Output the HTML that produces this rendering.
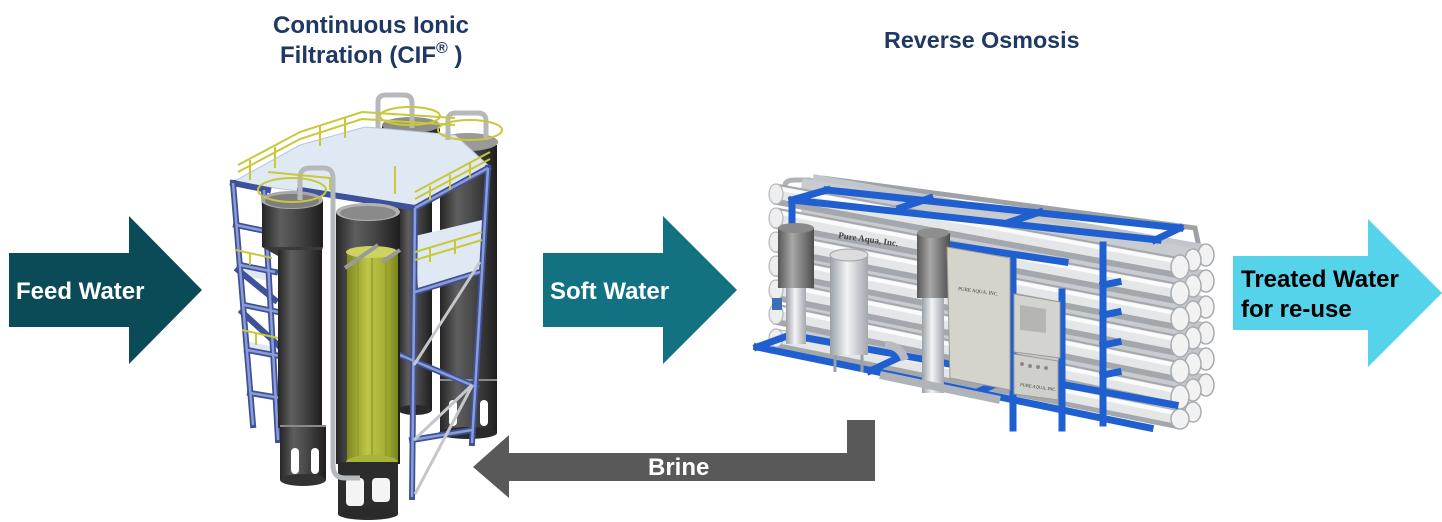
<!DOCTYPE html>
<html>
<head>
<meta charset="utf-8">
<style>
  html,body{margin:0;padding:0;background:#fff;}
  body{width:1442px;height:522px;overflow:hidden;position:relative;}
  svg{position:absolute;left:0;top:0;}
  .lbl{font-family:"Liberation Sans",Arial,sans-serif;font-weight:bold;}
</style>
</head>
<body>
<svg width="1442" height="522" viewBox="0 0 1442 522" xmlns="http://www.w3.org/2000/svg">
  <defs>
    <linearGradient id="cyl" x1="0" y1="0" x2="1" y2="0">
      <stop offset="0" stop-color="#262626"/>
      <stop offset="0.3" stop-color="#5e5e5e"/>
      <stop offset="0.55" stop-color="#4a4a4a"/>
      <stop offset="1" stop-color="#1e1e1e"/>
    </linearGradient>
    <linearGradient id="green" x1="0" y1="0" x2="1" y2="0">
      <stop offset="0" stop-color="#7d871c"/>
      <stop offset="0.4" stop-color="#bfc64a"/>
      <stop offset="0.75" stop-color="#a6af34"/>
      <stop offset="1" stop-color="#7a8420"/>
    </linearGradient>
    <linearGradient id="silver" x1="0" y1="0" x2="1" y2="0">
      <stop offset="0" stop-color="#9aa0a6"/>
      <stop offset="0.45" stop-color="#f3f4f5"/>
      <stop offset="1" stop-color="#a3a8ad"/>
    </linearGradient>
    <linearGradient id="motor" x1="0" y1="0" x2="1" y2="0">
      <stop offset="0" stop-color="#585858"/>
      <stop offset="0.4" stop-color="#a8a8a8"/>
      <stop offset="1" stop-color="#4e4e4e"/>
    </linearGradient>
  </defs>

  <!-- ============ ARROWS ============ -->
  <polygon points="9,253 129,253 129,216 202,290 129,364 129,327 9,327" fill="#0b4a57"/>
  <polygon points="543,253 663,253 663,216 737,290 663,364 663,327 543,327" fill="#127282"/>
  <polygon points="1233,256 1368,256 1368,219 1442,293 1368,367 1368,330 1233,330" fill="#55d3ea"/>
  <polygon points="473,467 509,435 509,453 847,453 847,420 875,420 875,481 509,481 509,498" fill="#595959"/>

  <!-- ============ CIF TOWER ============ -->
  <rect x="440" y="145" width="57" height="288" fill="url(#cyl)"/>
  <line x1="440" y1="380" x2="497" y2="380" stroke="#8a8a8a" stroke-width="2"/>
  <rect x="449" y="400" width="8" height="26" rx="4" fill="#fff"/>
  <rect x="480" y="400" width="8" height="26" rx="4" fill="#fff"/>
  <ellipse cx="468" cy="433" rx="29" ry="6" fill="#2a2a2a"/>
  <ellipse cx="468" cy="142" rx="30" ry="9" fill="#9a9a9a"/>
  <rect x="398" y="125" width="34" height="285" fill="url(#cyl)"/>
  <ellipse cx="415" cy="410" rx="17" ry="5" fill="#2a2a2a"/>
  <rect x="382" y="125" width="58" height="25" fill="url(#cyl)"/>
  <ellipse cx="411" cy="125" rx="29" ry="8" fill="#8e8e8e"/>

  <polygon points="233,182 415,208 490,167 455,135 365,127 300,145" fill="#dfe9f4" stroke="#b7c6da" stroke-width="1"/>
  <polygon points="415,236 482,220 482,270 418,290" fill="#dfe9f4"/>
  <polygon points="236,262 272,270 272,282 238,274" fill="#dfe9f4"/>
  <polygon points="242,340 278,348 278,360 244,352" fill="#dfe9f4"/>

  <g stroke="#3f5198" stroke-width="6" fill="none" stroke-linecap="square">
    <line x1="233" y1="183" x2="253" y2="425"/>
    <line x1="264" y1="190" x2="278" y2="440"/>
    <line x1="233" y1="183" x2="268" y2="190"/>
    <line x1="236" y1="225" x2="270" y2="232"/>
    <line x1="240" y1="265" x2="275" y2="272"/>
    <line x1="244" y1="305" x2="278" y2="312"/>
    <line x1="247" y1="350" x2="280" y2="356"/>
    <line x1="250" y1="393" x2="280" y2="398"/>
    <line x1="238" y1="270" x2="275" y2="300"/>
    <line x1="242" y1="312" x2="278" y2="345"/>
    <line x1="415" y1="208" x2="412" y2="497"/>
    <line x1="488" y1="168" x2="472" y2="443"/>
    <line x1="415" y1="208" x2="488" y2="168"/>
    <line x1="415" y1="292" x2="480" y2="272"/>
    <line x1="400" y1="355" x2="476" y2="387"/>
    <line x1="412" y1="440" x2="472" y2="430"/>
    <line x1="300" y1="190" x2="415" y2="208"/>
  </g>
  <g stroke="#8c9dd6" stroke-width="2.5" fill="none">
    <line x1="233" y1="183" x2="253" y2="425"/>
    <line x1="264" y1="190" x2="278" y2="440"/>
    <line x1="236" y1="225" x2="270" y2="232"/>
    <line x1="240" y1="265" x2="275" y2="272"/>
    <line x1="244" y1="305" x2="278" y2="312"/>
    <line x1="247" y1="350" x2="280" y2="356"/>
    <line x1="250" y1="393" x2="280" y2="398"/>
    <line x1="415" y1="208" x2="412" y2="497"/>
    <line x1="488" y1="168" x2="472" y2="443"/>
    <line x1="415" y1="208" x2="488" y2="168"/>
    <line x1="415" y1="292" x2="480" y2="272"/>
    <line x1="400" y1="355" x2="476" y2="387"/>
    <line x1="412" y1="440" x2="472" y2="430"/>
  </g>
  <g stroke="#c4c8cc" stroke-width="3">
    <line x1="414" y1="365" x2="480" y2="262"/>
    <line x1="414" y1="440" x2="472" y2="385"/>
    <line x1="415" y1="494" x2="472" y2="386"/>
  </g>

  <rect x="262" y="200" width="61" height="47" fill="url(#cyl)"/>
  <polygon points="262,247 323,247 320,256 278,256" fill="#3a3a3a"/>
  <rect x="278" y="250" width="44" height="178" fill="url(#cyl)"/>
  <rect x="280" y="425" width="46" height="55" fill="url(#cyl)"/>
  <line x1="280" y1="426" x2="326" y2="426" stroke="#8a8a8a" stroke-width="2"/>
  <rect x="291" y="448" width="8" height="26" rx="4" fill="#fff"/>
  <rect x="311" y="448" width="8" height="26" rx="4" fill="#fff"/>
  <ellipse cx="303" cy="480" rx="23" ry="6" fill="#333"/>
  <ellipse cx="292" cy="200" rx="31" ry="9" fill="#a8a8a8"/>
  <ellipse cx="292" cy="201" rx="27" ry="7" fill="#7e7e7e"/>

  <rect x="336" y="212" width="64" height="252" fill="url(#cyl)"/>
  <rect x="347" y="252" width="51" height="212" fill="url(#green)"/>
  <g stroke="#929c2c" stroke-width="1.5">
    <line x1="358" y1="256" x2="358" y2="462"/>
    <line x1="372" y1="258" x2="372" y2="464"/>
    <line x1="386" y1="256" x2="386" y2="462"/>
  </g>
  <ellipse cx="372" cy="252" rx="26" ry="6" fill="#cdd35e"/>
  <ellipse cx="372" cy="462" rx="26" ry="7" fill="#a9b23a"/>
  <rect x="338" y="462" width="60" height="52" fill="#2c2c2c"/>
  <rect x="346" y="478" width="18" height="28" rx="4" fill="#f4f4f4"/>
  <rect x="372" y="478" width="18" height="24" rx="4" fill="#f4f4f4"/>
  <ellipse cx="368" cy="514" rx="30" ry="6" fill="#2a2a2a"/>
  <ellipse cx="368" cy="212" rx="32" ry="9" fill="#b3b3b3"/>
  <ellipse cx="368" cy="213" rx="28" ry="7" fill="#8a8a8a"/>
  <line x1="345" y1="268" x2="378" y2="245" stroke="#9a9a9a" stroke-width="4"/>
  <line x1="382" y1="262" x2="400" y2="250" stroke="#9a9a9a" stroke-width="4"/>

  <g stroke="#b5b9bd" stroke-width="5" fill="none">
    <path d="M300 200 L300 178 Q300 168 310 168 L323 168 Q333 168 333 178 L333 465"/>
    <path d="M378 128 L378 102 Q378 95 386 95 L404 95 Q412 95 412 103 L412 128"/>
    <path d="M448 140 L448 120 Q448 113 456 113 L478 113 Q486 113 486 121 L486 140"/>
    <path d="M333 465 Q333 478 345 478 L360 478"/>
  </g>

  <g stroke="#c8c83a" stroke-width="2" fill="none">
    <polyline points="238,165 300,132 362,112 455,118"/>
    <polyline points="238,172 300,139 362,119 455,125"/>
    <polyline points="415,192 490,152"/>
    <polyline points="415,199 490,159"/>
    <polyline points="268,172 330,178 330,190"/>
    <polyline points="395,166 395,194"/>
    <ellipse cx="292" cy="190" rx="34" ry="12"/>
    <ellipse cx="410" cy="116" rx="30" ry="9"/>
    <ellipse cx="470" cy="130" rx="32" ry="10"/>
    <polyline points="415,252 482,232"/>
    <polyline points="415,260 482,240"/>
    <polyline points="236,250 272,258"/>
    <polyline points="242,330 278,338"/>
    <line x1="250" y1="160" x2="250" y2="180"/>
    <line x1="275" y1="147" x2="275" y2="168"/>
    <line x1="320" y1="126" x2="320" y2="146"/>
    <line x1="345" y1="118" x2="345" y2="138"/>
    <line x1="430" y1="186" x2="430" y2="200"/>
    <line x1="450" y1="175" x2="450" y2="190"/>
    <line x1="470" y1="163" x2="470" y2="178"/>
    <line x1="430" y1="248" x2="430" y2="262"/>
    <line x1="455" y1="240" x2="455" y2="254"/>
    <line x1="250" y1="253" x2="250" y2="265"/>
    <line x1="256" y1="333" x2="256" y2="345"/>
  </g>

  <!-- ============ RO SKID ============ -->
  <path d="M822 178 L1195 228 L1200 252" stroke="#9ea2a6" stroke-width="5" fill="none"/>
  <path d="M785 195 L785 186 Q785 180 795 180 L808 180 Q815 180 815 188 L815 196" stroke="#b0b4b8" stroke-width="5" fill="none"/>
  <g>
    <g transform="translate(22,-8)">
      <line x1="790" y1="192" x2="1180" y2="262" stroke="#c2c6ca" stroke-width="20"/>
      <line x1="790" y1="216" x2="1180" y2="288" stroke="#c2c6ca" stroke-width="20"/>
      <line x1="790" y1="240" x2="1180" y2="314" stroke="#c2c6ca" stroke-width="20"/>
      <line x1="790" y1="264" x2="1180" y2="340" stroke="#c2c6ca" stroke-width="20"/>
      <line x1="790" y1="288" x2="1180" y2="366" stroke="#c2c6ca" stroke-width="20"/>
      <line x1="790" y1="312" x2="1180" y2="392" stroke="#c2c6ca" stroke-width="20"/>
    </g>
    <g transform="translate(11,-4)">
      <line x1="790" y1="192" x2="1180" y2="262" stroke="#c8ccd0" stroke-width="20"/>
      <line x1="790" y1="216" x2="1180" y2="288" stroke="#c8ccd0" stroke-width="20"/>
      <line x1="790" y1="240" x2="1180" y2="314" stroke="#c8ccd0" stroke-width="20"/>
      <line x1="790" y1="264" x2="1180" y2="340" stroke="#c8ccd0" stroke-width="20"/>
      <line x1="790" y1="288" x2="1180" y2="366" stroke="#c8ccd0" stroke-width="20"/>
      <line x1="790" y1="312" x2="1180" y2="392" stroke="#c8ccd0" stroke-width="20"/>
      <line x1="790" y1="336" x2="1180" y2="416" stroke="#c8ccd0" stroke-width="20"/>
    </g>
    <g>
      <line x1="775" y1="194" x2="1180" y2="268" stroke="#a4a8ac" stroke-width="21"/>
      <line x1="775" y1="218" x2="1180" y2="294" stroke="#a4a8ac" stroke-width="21"/>
      <line x1="775" y1="242" x2="1180" y2="320" stroke="#a4a8ac" stroke-width="21"/>
      <line x1="775" y1="266" x2="1180" y2="346" stroke="#a4a8ac" stroke-width="21"/>
      <line x1="775" y1="290" x2="1180" y2="372" stroke="#a4a8ac" stroke-width="21"/>
      <line x1="775" y1="314" x2="1180" y2="398" stroke="#a4a8ac" stroke-width="21"/>
      <line x1="775" y1="338" x2="1180" y2="420" stroke="#a4a8ac" stroke-width="19"/>
      <g stroke="#e4e6e8" stroke-width="13">
        <line x1="775" y1="192" x2="1180" y2="266"/>
        <line x1="775" y1="216" x2="1180" y2="292"/>
        <line x1="775" y1="240" x2="1180" y2="318"/>
        <line x1="775" y1="264" x2="1180" y2="344"/>
        <line x1="775" y1="288" x2="1180" y2="370"/>
        <line x1="775" y1="312" x2="1180" y2="396"/>
        <line x1="775" y1="336" x2="1180" y2="418"/>
      </g>
      <g stroke="#fbfbfb" stroke-width="4">
        <line x1="775" y1="188" x2="1180" y2="262"/>
        <line x1="775" y1="212" x2="1180" y2="288"/>
        <line x1="775" y1="236" x2="1180" y2="314"/>
        <line x1="775" y1="260" x2="1180" y2="340"/>
        <line x1="775" y1="284" x2="1180" y2="366"/>
        <line x1="775" y1="308" x2="1180" y2="392"/>
        <line x1="775" y1="332" x2="1180" y2="414"/>
      </g>
    </g>
  </g>
  <g fill="#f2f2f2" stroke="#a8acb0" stroke-width="1.5">
    <ellipse cx="1206" cy="255" rx="8" ry="11"/>
    <ellipse cx="1206" cy="281" rx="8" ry="11"/>
    <ellipse cx="1206" cy="307" rx="8" ry="11"/>
    <ellipse cx="1206" cy="333" rx="8" ry="11"/>
    <ellipse cx="1206" cy="359" rx="8" ry="11"/>
    <ellipse cx="1206" cy="385" rx="8" ry="11"/>
    <ellipse cx="1193" cy="260" rx="8" ry="11"/>
    <ellipse cx="1193" cy="286" rx="8" ry="11"/>
    <ellipse cx="1193" cy="312" rx="8" ry="11"/>
    <ellipse cx="1193" cy="338" rx="8" ry="11"/>
    <ellipse cx="1193" cy="364" rx="8" ry="11"/>
    <ellipse cx="1193" cy="390" rx="8" ry="11"/>
    <ellipse cx="1193" cy="412" rx="8" ry="10"/>
    <ellipse cx="1180" cy="267" rx="9" ry="12"/>
    <ellipse cx="1180" cy="293" rx="9" ry="12"/>
    <ellipse cx="1180" cy="319" rx="9" ry="12"/>
    <ellipse cx="1180" cy="345" rx="9" ry="12"/>
    <ellipse cx="1180" cy="371" rx="9" ry="12"/>
    <ellipse cx="1180" cy="397" rx="9" ry="12"/>
    <ellipse cx="1180" cy="419" rx="9" ry="10"/>
  </g>
  <g fill="#eeeeee" stroke="#b4b8bc" stroke-width="1.2">
    <ellipse cx="776" cy="194" rx="7" ry="10"/>
    <ellipse cx="776" cy="218" rx="7" ry="10"/>
    <ellipse cx="776" cy="242" rx="7" ry="10"/>
    <ellipse cx="776" cy="266" rx="7" ry="10"/>
    <ellipse cx="776" cy="290" rx="7" ry="10"/>
    <ellipse cx="776" cy="314" rx="7" ry="10"/>
    <ellipse cx="776" cy="338" rx="7" ry="9"/>
  </g>
  <text x="838" y="238" font-family="Liberation Serif, serif" font-size="9" font-weight="bold" fill="#444" transform="rotate(8 838 238)">Pure Aqua, Inc.</text>

  <g stroke="#1f5fcf" stroke-width="7" fill="none" stroke-linecap="square">
    <line x1="827" y1="190" x2="1180" y2="228"/>
    <line x1="792" y1="200" x2="1158" y2="240"/>
    <line x1="792" y1="200" x2="827" y2="190"/>
    <line x1="900" y1="208" x2="930" y2="198"/>
    <line x1="1010" y1="222" x2="1040" y2="212"/>
    <line x1="1155" y1="240" x2="1180" y2="228"/>
    <line x1="792" y1="200" x2="792" y2="338"/>
    <line x1="1013" y1="257" x2="1013" y2="428"/>
    <line x1="1062" y1="292" x2="1062" y2="428"/>
    <line x1="1103" y1="245" x2="1103" y2="423"/>
    <line x1="944" y1="244" x2="1065" y2="262"/>
    <line x1="757" y1="347" x2="1150" y2="428"/>
    <line x1="790" y1="335" x2="1175" y2="405"/>
    <line x1="757" y1="347" x2="790" y2="335"/>
    <line x1="870" y1="371" x2="900" y2="357"/>
    <line x1="975" y1="393" x2="1005" y2="380"/>
    <line x1="1103" y1="285" x2="1118" y2="282"/>
    <line x1="1103" y1="315" x2="1118" y2="312"/>
    <line x1="1103" y1="345" x2="1118" y2="342"/>
    <line x1="1103" y1="375" x2="1118" y2="372"/>
  </g>

  <rect x="778" y="228" width="36" height="60" fill="url(#motor)"/>
  <ellipse cx="796" cy="228" rx="18" ry="5" fill="#8a8a8a"/>
  <rect x="786" y="288" width="20" height="56" fill="url(#silver)"/>
  <rect x="772" y="298" width="10" height="12" fill="#3b6fb8"/>
  <rect x="830" y="255" width="38" height="100" fill="url(#silver)"/>
  <ellipse cx="849" cy="255" rx="19" ry="6" fill="#dcdcdc" stroke="#a0a4a8"/>
  <line x1="835" y1="355" x2="835" y2="372" stroke="#9aa0a6" stroke-width="3"/>
  <line x1="862" y1="355" x2="862" y2="372" stroke="#9aa0a6" stroke-width="3"/>
  <rect x="917" y="233" width="33" height="65" fill="url(#motor)"/>
  <ellipse cx="933" cy="233" rx="16" ry="5" fill="#8e8e8e"/>
  <rect x="922" y="298" width="22" height="95" fill="url(#silver)"/>
  <path d="M880 375 L1000 400" stroke="#b0b4b8" stroke-width="8"/>
  <path d="M885 345 Q900 345 905 360" stroke="#b8bcc0" stroke-width="8" fill="none"/>

  <polygon points="947,247 1010,258 1010,390 950,378" fill="#d5d4cb" stroke="#9c9c96" stroke-width="1"/>
  <text x="958" y="290" font-family="Liberation Serif, serif" font-size="5" fill="#333" transform="rotate(8 958 290)">PURE AQUA, INC.</text>
  <polygon points="1014,294 1060,302 1060,358 1014,352" fill="#d3d3cf" stroke="#9c9c96" stroke-width="1"/>
  <polygon points="1020,305 1046,309 1046,333 1020,330" fill="#b5b6b4"/>
  <polygon points="1014,354 1058,361 1058,400 1014,394" fill="#cfd0cc" stroke="#9c9c96" stroke-width="1"/>
  <g fill="#8a8a8a">
    <circle cx="1022" cy="364" r="2"/><circle cx="1030" cy="366" r="2"/><circle cx="1038" cy="367" r="2"/><circle cx="1046" cy="368" r="2"/>
  </g>
  <text x="1020" y="386" font-family="Liberation Serif, serif" font-size="4.5" fill="#333" transform="rotate(8 1020 386)">PURE AQUA, INC.</text>

  <!-- ============ LABELS ============ -->
  <g class="lbl" font-size="24">
    <text x="16" y="299" fill="#ffffff">Feed Water</text>
    <text x="550" y="299" fill="#ffffff">Soft Water</text>
    <text x="1241" y="287" fill="#000000">Treated Water</text>
    <text x="1241" y="317" fill="#000000">for re-use</text>
    <text x="648" y="475" fill="#ffffff">Brine</text>
  </g>
  <g class="lbl" fill="#1f3864">
    <text x="273" y="33" font-size="24">Continuous Ionic</text>
    <text x="280" y="63" font-size="24">Filtration (CIF<tspan font-size="16" dy="-10">®</tspan><tspan dy="10"> )</tspan></text>
    <text x="884" y="48" font-size="23.3">Reverse Osmosis</text>
  </g>
</svg>
</body>
</html>
